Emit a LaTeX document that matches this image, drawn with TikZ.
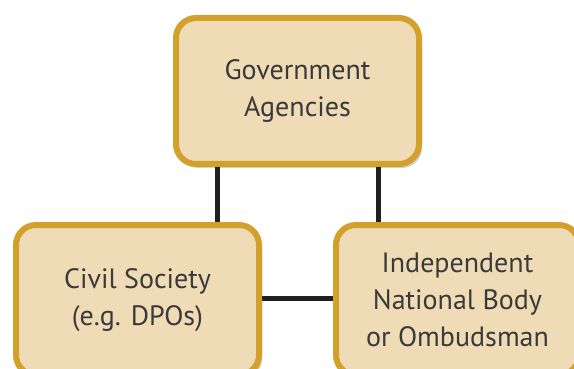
\documentclass[tikz,border=0pt]{standalone}
\usepackage{fontspec}
\setmainfont{PT Sans}
\usetikzlibrary{shadows,backgrounds}
\definecolor{boxfill}{HTML}{EFDCB6}
\definecolor{boxborder}{HTML}{D4A02C}
\definecolor{txt}{HTML}{3A3A3A}
\definecolor{linec}{HTML}{231F20}
\tikzset{
  box/.style={draw=boxborder, fill=boxfill, line width=6pt, rounded corners=20pt,
    minimum width=243pt, align=center, text=txt,
    font=\fontsize{28}{37}\selectfont, inner sep=0pt,
    drop shadow={shadow xshift=3pt, shadow yshift=-4pt, opacity=0.18, fill=black}},
  link/.style={draw=linec, line width=5pt}
}
\begin{document}
\begin{tikzpicture}[x=1pt,y=-1pt]
\useasboundingbox (0,0) rectangle (574,369);
\clip (0,0) rectangle (574,369);
\node[box, minimum height=146pt] (G) at (297.5,91) {Government\\Agencies};
\node[box, minimum height=150pt] (L) at (137.5,300) {Civil Society\\(e.g. DPOs)};
\node[box, minimum height=150pt] (R) at (457.5,300) {Independent\\National Body\\or Ombudsman};
\begin{scope}[on background layer]
\fill[white] (0,0) rectangle (574,369);
\draw[link] ([xshift=-80.5pt]G.south) -- ([xshift=-80.5pt]G.south |- L.north);
\draw[link] ([xshift=80.5pt]G.south) -- ([xshift=80.5pt]G.south |- R.north);
\draw[link] ([yshift=2pt]L.east) -- ([yshift=2pt]R.west);
\end{scope}
\end{tikzpicture}
\end{document}
